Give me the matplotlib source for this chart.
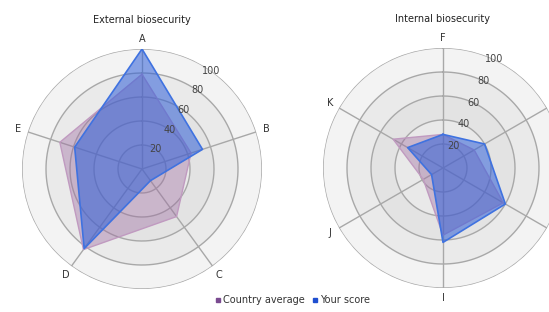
import numpy as np
import matplotlib
matplotlib.use("Agg")
import matplotlib.pyplot as plt
from matplotlib.lines import Line2D

plt.rcParams['font.family'] = ['DejaVu Sans']

ext_labels = ["A", "B", "C", "D", "E"]
ext_country = [79, 43, 49, 83, 72]
ext_score = [100, 53, 12, 82, 59]

int_labels = ["F", "G", "H", "I", "J", "K"]
int_country = [28, 30, 58, 56, 19, 48]
int_score = [28, 40, 60, 62, 11, 34]

r_ticks = [20, 40, 60, 80, 100]
r_tick_labels = ["20", "40", "60", "80", "100"]

blue_fill = "#2f5fd8"
blue_edge = "#3f72e0"
purple_fill = "#9c6aa0"
purple_edge = "#c09ac0"
grid_col = "#a8a8a8"
band_cols = ["#e2e2e2", "#e9e9e9", "#e3e3e3", "#eaeaea", "#f3f3f3"]

fig = plt.figure(figsize=(5.49, 3.12), dpi=100)


def radar(ax, labels, country, score, title, rlab_pos, hidden=()):
    n = len(labels)
    theta = np.linspace(0, 2 * np.pi, n, endpoint=False)
    ax.set_theta_zero_location("N")
    ax.set_theta_direction(-1)
    ax.set_ylim(0, 100)
    ax.set_facecolor("white")
    edges = [0] + r_ticks
    for i in range(len(r_ticks)):
        ax.bar(0, edges[i + 1] - edges[i], width=2 * np.pi, bottom=edges[i],
               color=band_cols[i], edgecolor="none", zorder=0)
    for r in r_ticks:
        t = np.linspace(0, 2 * np.pi, 300)
        ax.plot(t, [r] * 300, color=grid_col, lw=1.0, zorder=1)
    for th in theta:
        ax.plot([th, th], [0, 100], color=grid_col, lw=1.0, zorder=1)
    ax.grid(False)
    ax.spines["polar"].set_visible(False)
    tc = np.concatenate([theta, theta[:1]])
    c = np.array(country + country[:1])
    s = np.array(score + score[:1])
    ax.fill(tc, c, color=purple_fill, alpha=0.4, zorder=2, lw=0)
    ax.plot(tc, c, color=purple_edge, lw=1.0, zorder=2)
    ax.fill(tc, s, color=blue_fill, alpha=0.55, zorder=3, lw=0)
    ax.plot(tc, s, color=blue_edge, lw=1.2, zorder=3)
    ax.set_xticks(theta)
    shown = ["" if lab in hidden else lab for lab in labels]
    ax.set_xticklabels(shown, fontsize=7, color="#333333")
    ax.tick_params(axis="x", pad=-3)
    ax.set_yticks(r_ticks)
    ax.set_yticklabels([])
    for r, lab in zip(r_ticks, r_tick_labels):
        ax.text(np.deg2rad(rlab_pos), r, lab, fontsize=7, color="#444444",
                ha="center", va="center", zorder=4)
    ax.set_title(title, fontsize=7, color="#222222", pad=19)


ax1 = fig.add_axes([142 / 549 - 120 / 549, (312 - 169 - 120) / 312, 240 / 549, 240 / 312], projection="polar")
radar(ax1, ext_labels, ext_country, ext_score, "External biosecurity", 35)

ax2 = fig.add_axes([443 / 549 - 120 / 549, (312 - 168 - 120) / 312, 240 / 549, 240 / 312], projection="polar")
# G and H fall outside the picture's right edge in the reference
radar(ax2, int_labels, int_country, int_score, "Internal biosecurity", 25, hidden=("G", "H"))

handles = [Line2D([], [], marker="s", ls="", color="#7a4a90", markersize=3),
           Line2D([], [], marker="s", ls="", color="#1f4fd0", markersize=3)]
fig.legend(handles, ["Country average", "Your score"], loc="center",
           bbox_to_anchor=(292 / 549, 1 - 300 / 312), ncol=2, frameon=False,
           fontsize=7, handletextpad=0.1, columnspacing=0.6, handlelength=0.8,
           labelcolor="#333333")

fig.savefig("out.png", dpi=100)
